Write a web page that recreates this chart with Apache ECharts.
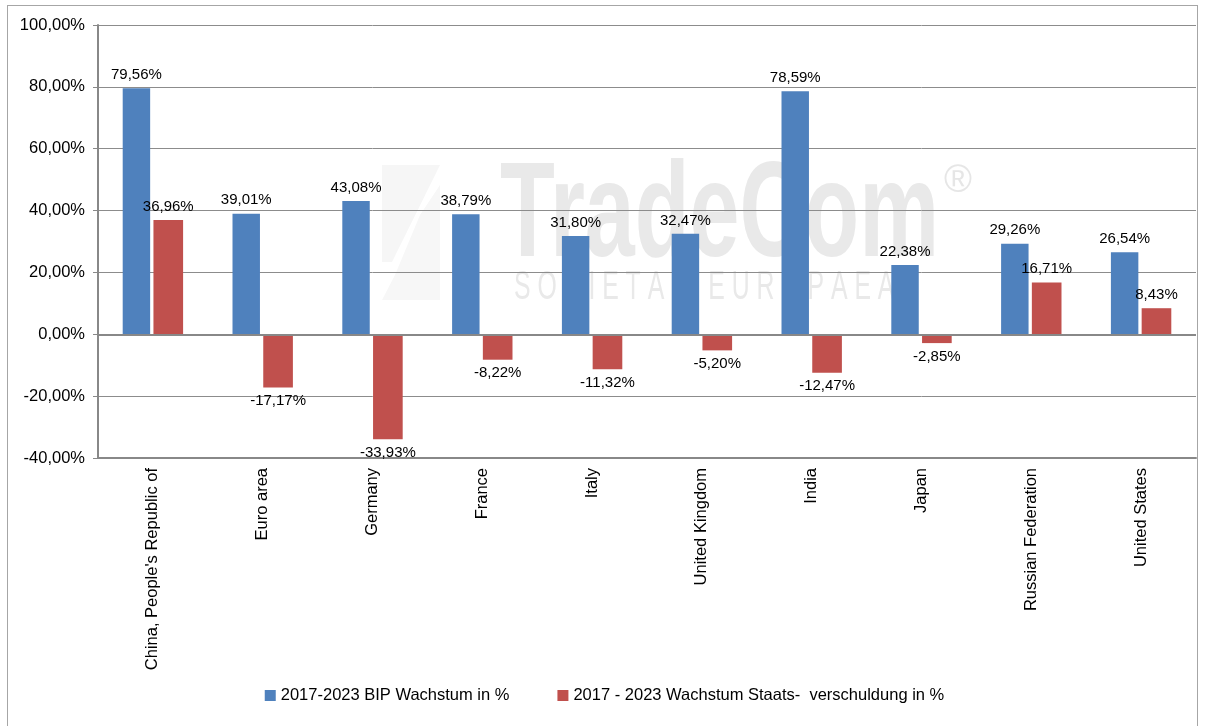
<!DOCTYPE html>
<html>
<head>
<meta charset="utf-8">
<script src="https://cdn.jsdelivr.net/npm/echarts@6/dist/echarts.min.js"></script>
<style>
  html,body{margin:0;padding:0;background:#fff;}
  #chart{width:1209px;height:726px;}
  .frame{position:absolute;left:7px;top:5px;width:1191px;height:730px;border:1px solid #a6a6a6;box-sizing:border-box;pointer-events:none;}
</style>
</head>
<body>
<div id="chart"></div>
<div class="frame"></div>
<script>
var categories = ['China, People\'s Republic of', 'Euro area', 'Germany', 'France', 'Italy',
  'United Kingdom', 'India', 'Japan', 'Russian Federation', 'United States'];
var bipGrowth = [79.56, 39.01, 43.08, 38.79, 31.80, 32.47, 78.59, 22.38, 29.26, 26.54];
var debtGrowth = [36.96, -17.17, -33.93, -8.22, -11.32, -5.20, -12.47, -2.85, 16.71, 8.43];
var seriesNames = ['2017-2023 BIP Wachstum in %', '2017 - 2023 Wachstum Staats-  verschuldung in %'];

function pct(v) {
  return v.toFixed(2).replace('.', ',') + '%';
}

var myChart = echarts.init(document.getElementById('chart'));
myChart.setOption({
  animation: false,
  textStyle: { fontFamily: 'Liberation Sans, Arial, sans-serif' },
  // faint TradeCom watermark behind the bars
  graphic: [
    {
      type: 'polygon', silent: true, z: -10,
      shape: { points: [[382, 165], [440, 165], [392, 262], [382, 262]] },
      style: { fill: '#f6f6f6' }
    },
    {
      type: 'polygon', silent: true, z: -10,
      shape: { points: [[420, 215], [440, 185], [440, 300], [382, 300], [395, 275]] },
      style: { fill: '#f7f7f7' }
    },
    {
      type: 'text', x: 500, y: 150, scaleX: 0.66, silent: true, z: -10,
      style: { text: 'TradeCom', fill: '#e9e9e9', font: 'bold 136px "Liberation Sans", sans-serif' }
    },
    {
      type: 'text', x: 944, y: 163, silent: true, z: -10,
      style: { text: '®', fill: '#e6e6e6', font: '38px "Liberation Sans", sans-serif' }
    },
    {
      type: 'text', x: 514, y: 268, scaleX: 0.62, silent: true, z: -10,
      style: { text: 'S O C I E T A S   E U R O P A E A', fill: '#e9e9e9', font: '40px "Liberation Sans", sans-serif' }
    }
  ],
  legend: {
    bottom: 17,
    left: 'center',
    itemWidth: 11,
    itemHeight: 11,
    itemGap: 48,
    icon: 'rect',
    textStyle: { fontSize: 16.5, color: '#000' },
    data: seriesNames
  },
  grid: { left: 98, right: 13, top: 25, bottom: 268 },
  xAxis: {
    type: 'category',
    data: categories,
    axisLine: { onZero: false, lineStyle: { color: '#888', width: 2 } },
    axisTick: { show: false },
    axisLabel: { rotate: 90, fontSize: 16.5, color: '#000', margin: 10, interval: 0 }
  },
  yAxis: {
    type: 'value',
    min: -40,
    max: 100,
    interval: 20,
    axisLine: { show: true, lineStyle: { color: '#888', width: 2 } },
    axisTick: { show: true, length: 5, lineStyle: { color: '#888' } },
    splitLine: { lineStyle: { color: '#8c8c8c', width: 1 } },
    axisLabel: { fontSize: 16.5, color: '#000', margin: 13, formatter: function (v) { return pct(v); } }
  },
  series: [
    {
      name: seriesNames[0],
      type: 'bar',
      data: bipGrowth,
      barWidth: '25%',
      barGap: '12%',
      itemStyle: { color: '#4F81BD' },
      label: { show: true, position: 'top', fontSize: 15, color: '#000', distance: 6, formatter: function (p) { return pct(p.value); } },
      markLine: {
        silent: true,
        symbol: 'none',
        label: { show: false },
        lineStyle: { color: '#888', width: 2, type: 'solid' },
        data: [{ yAxis: 0 }]
      }
    },
    {
      name: seriesNames[1],
      type: 'bar',
      data: debtGrowth.map(function (v) {
        return { value: v, label: { position: v < 0 ? 'bottom' : 'top' } };
      }),
      barWidth: '27%',
      itemStyle: { color: '#C0504D' },
      label: { show: true, fontSize: 15, color: '#000', distance: 6, formatter: function (p) { return pct(p.value); } }
    }
  ]
});
</script>
</body>
</html>
